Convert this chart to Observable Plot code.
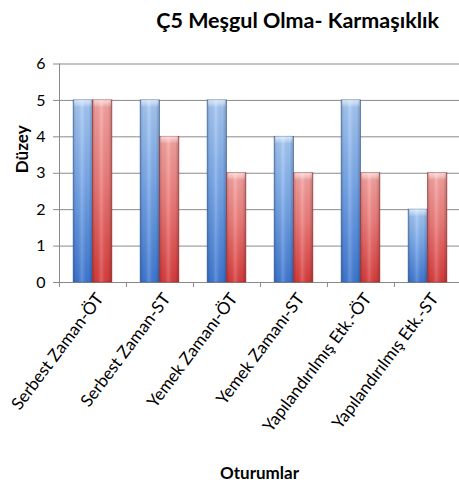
<!DOCTYPE html>
<html>
<head>
<meta charset="utf-8">
<script src="https://cdn.jsdelivr.net/npm/d3@7"></script>
<script src="https://cdn.jsdelivr.net/npm/@observablehq/plot@0.6"></script>
<style>
  html, body { margin: 0; padding: 0; background: #fff; }
  #wrap { width: 459px; height: 486px; overflow: hidden; font-family: Lato, "Open Sans", sans-serif; }
  #title { height: 40px; box-sizing: border-box; padding-right: 20px; text-align: right;
           font-weight: bold; font-size: 21.5px; line-height: 40px; color: #000; }
  #chart [aria-label="x-axis label"] text { font-weight: bold; }
</style>
</head>
<body>
<svg width="0" height="0" style="position:absolute">
  <defs>
    <linearGradient id="blueV" x1="0" y1="0" x2="0" y2="1">
      <stop offset="0" stop-color="#a8cbf6"/>
      <stop offset="0.45" stop-color="#79a9ec"/>
      <stop offset="1" stop-color="#3d78d4"/>
    </linearGradient>
    <linearGradient id="redV" x1="0" y1="0" x2="0" y2="1">
      <stop offset="0" stop-color="#f8a6a4"/>
      <stop offset="0.45" stop-color="#ef7b79"/>
      <stop offset="1" stop-color="#db3b3b"/>
    </linearGradient>
    <linearGradient id="shadeH" x1="0" y1="0" x2="1" y2="0">
      <stop offset="0" stop-color="#000" stop-opacity="0.22"/>
      <stop offset="0.15" stop-color="#000" stop-opacity="0.05"/>
      <stop offset="0.45" stop-color="#fff" stop-opacity="0.18"/>
      <stop offset="0.8" stop-color="#000" stop-opacity="0.04"/>
      <stop offset="1" stop-color="#000" stop-opacity="0.25"/>
    </linearGradient>
    <linearGradient id="bevel" x1="0" y1="0" x2="0" y2="1">
      <stop offset="0" stop-color="#fff" stop-opacity="0.6"/>
      <stop offset="0.6" stop-color="#fff" stop-opacity="0.3"/>
      <stop offset="1" stop-color="#fff" stop-opacity="0"/>
    </linearGradient>
  </defs>
</svg>
<div id="wrap">
  <div id="title">Ç5 Meşgul Olma- Karmaşıklık</div>
  <div id="chart"></div>
</div>
<script>
// Sessions along the x axis and the two levels drawn for each session
const categories = [
  "Serbest Zaman-ÖT",
  "Serbest Zaman-ST",
  "Yemek Zamanı-ÖT",
  "Yemek Zamanı-ST",
  "Yapılandırılmış Etk.-ÖT",
  "Yapılandırılmış Etk.-ST"
];
const blueValues = [5, 5, 5, 4, 5, 2];
const redValues = [5, 4, 3, 3, 3, 3];
const yTicks = [0, 1, 2, 3, 4, 5, 6];
const yLabel = "Düzey";
const xLabel = "Oturumlar";

const blueData = categories.map((c, i) => ({category: c, value: blueValues[i]}));
const redData = categories.map((c, i) => ({category: c, value: redValues[i]}));

// Geometry of the plot area
const width = 459, height = 446;
const xRange = [59, 461.6];
const step = (xRange[1] - xRange[0]) / categories.length;
const barWidth = 19.4;
const gap = (step - 2 * barWidth) / 2;
const bevelDepth = 0.2; // light rim along the top of each bar, in axis units
const axisColor = "#8a8a8a";

// one cylinder-style bar: gradient body, side shading and a light top rim
function bars(data, fill, stroke, insetLeft, insetRight) {
  return [
    Plot.barY(data, {x: "category", y: "value", fill, insetLeft, insetRight,
      stroke, strokeWidth: 0.8, strokeOpacity: 0.8}),
    Plot.barY(data, {x: "category", y: "value", fill: "url(#shadeH)", insetLeft, insetRight}),
    Plot.barY(data, {x: "category", y1: d => d.value - bevelDepth, y2: "value", fill: "url(#bevel)",
      insetLeft: insetLeft + 1, insetRight: insetRight + 1})
  ];
}

const chart = Plot.plot({
  width, height,
  marginTop: 23.5, marginBottom: 204, marginLeft: 59, marginRight: 0,
  style: {fontFamily: "Lato, 'Open Sans', sans-serif", fontSize: "16px", color: "#000", background: "#fff", overflow: "visible"},
  x: {domain: categories, range: xRange, padding: 0, axis: null},
  y: {domain: [0, 6], axis: null},
  marks: [
    Plot.gridY(yTicks, {stroke: axisColor, strokeOpacity: 1}),
    Plot.frame({anchor: "left", stroke: axisColor}),
    // first series (blue) in the left half of each session band, second (red) in the right half
    ...bars(blueData, "url(#blueV)", "#3b67a8", gap, gap + barWidth),
    ...bars(redData, "url(#redV)", "#a83535", gap + barWidth, gap),
    Plot.axisY(yTicks, {tickSize: 6, tickPadding: 8, stroke: axisColor, fontSize: 16, label: null}),
    // y axis title, rotated along the left edge
    Plot.text([yLabel], {text: d => d, frameAnchor: "left", rotate: -90, dx: -37, fontSize: 17, fontWeight: "bold"}),
    // tick marks between sessions
    Plot.axisX({tickSize: 5, dx: -step / 2, text: null, stroke: axisColor, label: null}),
    Plot.axisX({tickSize: 0, tickPadding: 13, tickRotate: -53, fontSize: 17, dx: 7,
      label: xLabel, labelAnchor: "center", labelOffset: 196})
  ]
});
document.getElementById("chart").appendChild(chart);
</script>
</body>
</html>
